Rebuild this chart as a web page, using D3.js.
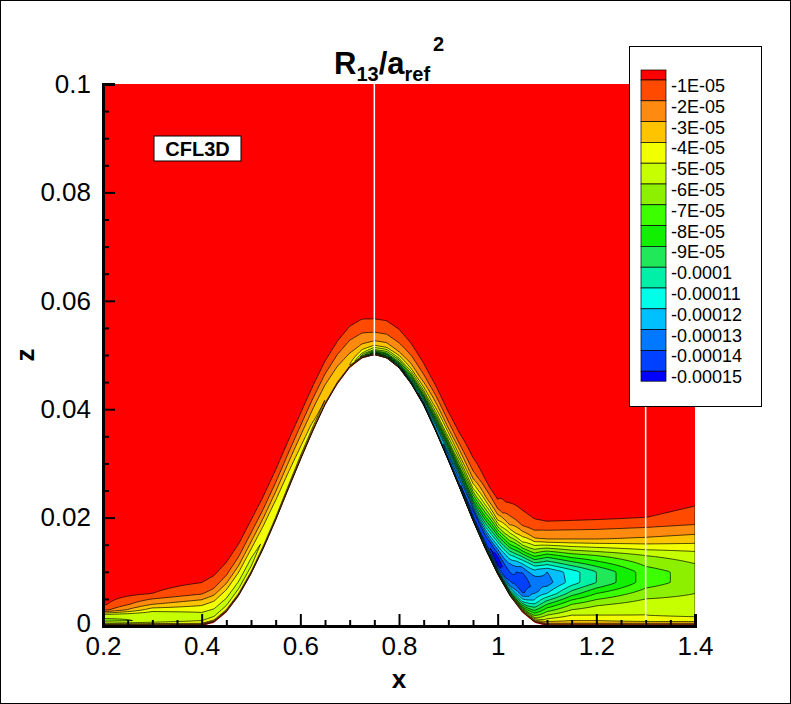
<!DOCTYPE html>
<html><head><meta charset="utf-8">
<script src="https://cdn.jsdelivr.net/npm/d3@7"></script>
<style>body{margin:0;background:#fff}text{font-family:"Liberation Sans",Arial,sans-serif}</style>
</head><body><svg id="c" width="791" height="704"></svg>
<script>
// ---- data ----
const wallX = [0.2,0.4,0.425,0.45,0.475,0.5,0.525,0.55,0.575,0.6,0.625,0.65,0.675,0.7,0.725,0.75,0.775,0.8,0.825,0.85,0.875,0.9,0.925,0.95,0.975,1.0,1.025,1.05,1.075,1.1,1.4];
const wallZ = [0,0,0.0006,0.0025,0.0055,0.0095,0.0142,0.0194,0.025,0.0305,0.0358,0.0407,0.0446,0.0476,0.0494,0.05,0.0494,0.0476,0.0446,0.0407,0.0358,0.0305,0.025,0.0194,0.0142,0.0095,0.0055,0.0025,0.0006,0,0];
// distance above wall levels
const dLevels = [0,0.0005,0.001,0.002,0.003,0.004,0.006,0.008,0.010,0.013,0.016,0.020,0.025,0.1];
const xStations = [0.2,0.3,0.4,0.5,0.6,0.7,0.75,0.8,0.85,0.9,0.95,1.0,1.05,1.1,1.15,1.2,1.3,1.4];
// -R13/aref^2 in units of 1e-5, one column per x station (rows = dLevels)
const magnitude = [
 [0,5,6.3,5.5,1.6,0.8,0.4,0.2,0.1,0,0,0,0,0],
 [0,4.5,5.8,6,4.5,3,1.0,0.5,0.3,0.1,0,0,0,0],
 [0,4,5,5.3,4.7,3.8,1.9,1.0,0.5,0.2,0.1,0,0,0],
 [0,4,4.8,5.2,5,4.5,3,1.8,1.0,0.4,0.1,0,0,0],
 [0,3.5,4.2,4.2,3.8,3.3,2.2,1.2,0.6,0.2,0.1,0,0,0],
 [0,4,3.8,3.3,2.9,2.5,1.6,0.9,0.4,0.1,0,0,0,0],
 [0,9,6,3.5,2.7,2.1,1.2,0.6,0.3,0.1,0,0,0,0],
 [0,11,7.5,4.5,3,2.3,1.4,0.7,0.3,0.1,0,0,0,0],
 [0,12.5,11,7,4.5,3.2,1.8,0.9,0.4,0.2,0.1,0,0,0],
 [0,13,13.5,11,8,5.5,3,1.4,0.6,0.3,0.1,0,0,0],
 [0,12,14.5,14,11,8.5,5,2.8,1.5,0.6,0.2,0,0,0],
 [0,9,13,15.5,15.5,14,11,7.5,4,1.2,0.5,0.2,0,0],
 [0,5,8,11,13,14.5,15,13.5,10.5,5,2,0.6,0.2,0],
 [0,3,4.5,6,7.5,9,12,13.5,13,8.5,3,0.6,0.2,0],
 [0,3,4,5,6,7,9.5,11.5,11.5,7.5,3,0.7,0.2,0],
 [0,3,4,5,5.5,6.2,8,10,10,7,3,0.8,0.2,0],
 [0,3,4.5,5,5,5.5,6.5,7.5,7.5,6,3.2,1,0.3,0],
 [0,3,4.5,5.2,5.3,5.5,6,6.5,6.5,5.5,3.5,1.3,0.6,0]
];
const levelLabels = ["-1E-05","-2E-05","-3E-05","-4E-05","-5E-05","-6E-05","-7E-05","-8E-05","-9E-05","-0.0001","-0.00011","-0.00012","-0.00013","-0.00014","-0.00015"];
const bandColors = ["#ff0000","#ff4a00","#ff8a10","#ffc400","#f2ff00","#c6ff00","#8cf000","#3cff00","#10f000","#20e858","#00f0a8","#00ffe8","#00c0ff","#0078ff","#0040ff","#0000ff"];
const xTicks = [0.2,0.4,0.6,0.8,1,1.2,1.4];
const zTicks = [0,0.02,0.04,0.06,0.08,0.1];

// ---- drawing ----
const svg = d3.select("#c");
const X = d3.scaleLinear().domain([0.2,1.4]).range([103,695]);
const Y = d3.scaleLinear().domain([0,0.1]).range([626,84]);
const wall = d3.scaleLinear().domain(wallX).range(wallZ);

svg.append("rect").attr("x",0.5).attr("y",0.5).attr("width",790).attr("height",703).attr("fill","#fff").attr("stroke","#000");

const NX = 361, NY = 300;
const rowScales = dLevels.map((_,j)=>d3.scaleLinear().domain(xStations).range(magnitude.map(c=>c[j])));
const vals = new Float64Array(NX*NY);
const gx = i => 0.2 + 1.2*i/(NX-1);
const gd = j => 0.1*Math.pow(j/(NY-1),2);
for (let i=0;i<NX;i++){
  const x = gx(i);
  const col = rowScales.map(s=>s(x));
  const ds = d3.scaleLinear().domain(dLevels).range(col).clamp(true);
  for (let j=0;j<NY;j++) vals[j*NX+i] = ds(gd(j));
}
const thresholds = d3.range(0,16).map(k=>k===0?-1:k);
const contours = d3.contours().size([NX,NY]).thresholds(thresholds)(vals);
function mapPt(p){
  const fi = Math.max(0,Math.min(NX-1,p[0]-0.5)), fj = Math.max(0,Math.min(NY-1,p[1]-0.5));
  const x = 0.2 + 1.2*fi/(NX-1);
  const d = 0.1*Math.pow(fj/(NY-1),2);
  return [X(x), Y(wall(x)+d)];
}
function pathOf(geom){
  let s="";
  geom.coordinates.forEach(poly=>poly.forEach(ring=>{
    s += "M" + ring.map(p=>mapPt(p).join(",")).join("L") + "Z";
  }));
  return s;
}
svg.append("clipPath").attr("id","pc").append("rect").attr("x",103).attr("y",84).attr("width",592).attr("height",542);
const g = svg.append("g").attr("clip-path","url(#pc)");
contours.forEach((c,k)=>{
  g.append("path").attr("d",pathOf(c)).attr("fill",bandColors[k])
   .attr("stroke",k===0?"none":"#000").attr("stroke-width",0.7).attr("stroke-linejoin","round");
});
g.append("line").attr("x1",X(0.75)).attr("x2",X(0.75)).attr("y1",Y(0.1)).attr("y2",Y(wall(0.75))).attr("stroke","#fff").attr("stroke-width",1.5);
g.append("line").attr("x1",X(1.3)).attr("x2",X(1.3)).attr("y1",Y(0.1)).attr("y2",Y(0)).attr("stroke","#fff").attr("stroke-width",1.5);

const ax = svg.append("g").attr("transform","translate(0,626)")
 .call(d3.axisBottom(X).tickValues(xTicks).tickFormat(d3.format("")).tickSize(-12).tickPadding(10));
const axm = svg.append("g").attr("transform","translate(0,626)")
 .call(d3.axisBottom(X).tickValues(d3.range(0.25,1.4,0.05).filter(v=>Math.abs(v*5-Math.round(v*5))>1e-6)).tickFormat("").tickSize(-6));
const ay = svg.append("g").attr("transform","translate(103,0)")
 .call(d3.axisLeft(Y).tickValues(zTicks).tickFormat(d3.format("")).tickSize(-12).tickPadding(12));
const aym = svg.append("g").attr("transform","translate(103,0)")
 .call(d3.axisLeft(Y).tickValues(d3.range(0.005,0.1,0.005).filter(v=>Math.abs(v*50-Math.round(v*50))>1e-6)).tickFormat("").tickSize(-6));
[ax,axm,ay,aym].forEach(a=>{a.selectAll(".domain").attr("stroke","#000").attr("stroke-width",3);a.selectAll("line").attr("stroke","#000").attr("stroke-width",2);a.selectAll("text").attr("font-size",26).attr("fill","#000").style("font-family","Liberation Sans, Arial")});
ax.selectAll("text").attr("dy","0.72em");
ay.selectAll("text").filter(d=>d===0).attr("dy","0.2em");

svg.append("text").attr("x",399).attr("y",688).attr("text-anchor","middle").attr("font-size",26).attr("font-weight","bold").text("x");
svg.append("text").attr("transform","translate(34,355) rotate(-90)").attr("text-anchor","middle").attr("font-size",26).attr("font-weight","bold").text("z");
const t = svg.append("text").attr("x",334).attr("y",74).attr("font-size",31).attr("font-weight","bold");
t.append("tspan").text("R");
t.append("tspan").attr("font-size",20).attr("dy",7).text("13");
t.append("tspan").attr("dy",-7).text("/a");
t.append("tspan").attr("font-size",20).attr("dy",7).text("ref");
t.append("tspan").attr("font-size",20).attr("dy",-30).attr("dx",3).text("2");

svg.append("rect").attr("x",154).attr("y",136).attr("width",87).attr("height",25).attr("fill","#fff").attr("stroke","#000");
svg.append("text").attr("x",197.5).attr("y",156).attr("text-anchor","middle").attr("font-size",20).attr("font-weight","bold").text("CFL3D");

const L = svg.append("g");
L.append("rect").attr("x",629.5).attr("y",46.5).attr("width",132).attr("height",360).attr("fill","#fff").attr("stroke","#000");
const step = 20.8, top0 = 80;
bandColors.forEach((c,k)=>{
  const y0 = k===0 ? 70 : top0 + (k-1)*step;
  const h = k===0 ? 10 : (k===15 ? 10 : step);
  L.append("rect").attr("x",641).attr("y",y0).attr("width",25).attr("height",h).attr("fill",c).attr("stroke","#000").attr("stroke-width",0.7);
});
levelLabels.forEach((s,k)=>{
  L.append("text").attr("x",671).attr("y",top0+k*step+12).attr("font-size",18).text(s);
});
</script></body></html>
